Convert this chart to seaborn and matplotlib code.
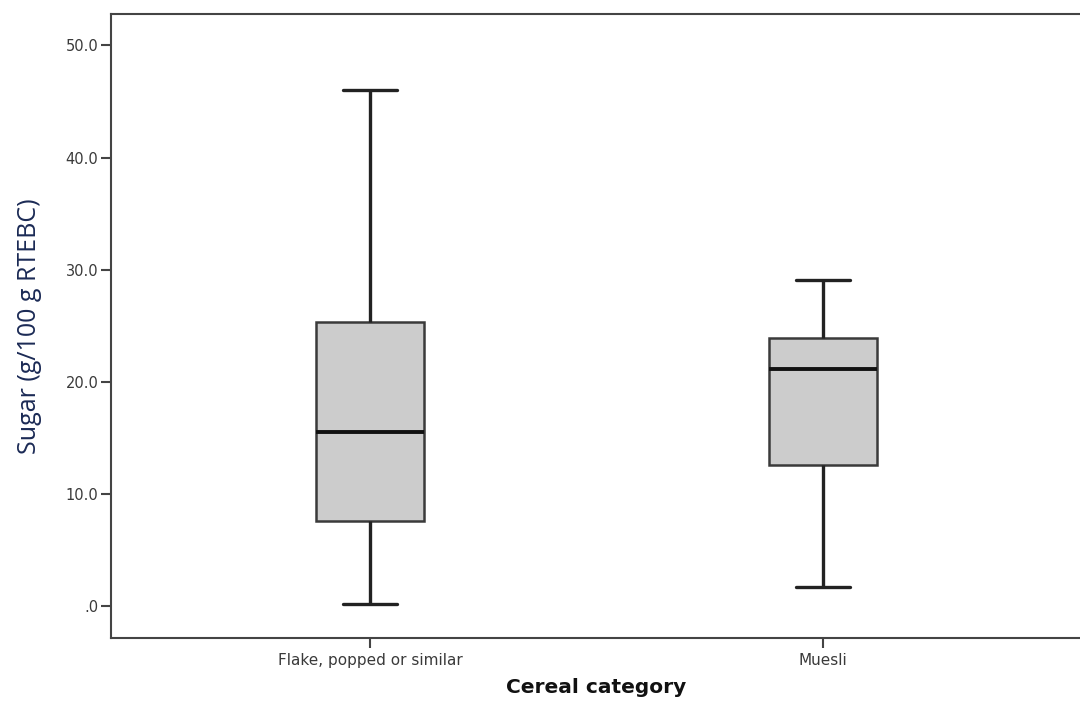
import matplotlib
matplotlib.use("Agg")
import matplotlib.pyplot as plt
import seaborn as sns
import pandas as pd
from matplotlib.ticker import FixedLocator, FuncFormatter

# Five-number summaries (min, Q1, median, Q3, max) of sugar content per category
categories = ["Flake, popped or similar", "Muesli"]
flake_summary = [0.2, 7.6, 15.5, 25.3, 46.0]
muesli_summary = [1.7, 12.6, 21.1, 23.9, 29.1]

df = pd.DataFrame({
    "category": [categories[0]] * len(flake_summary) + [categories[1]] * len(muesli_summary),
    "sugar": flake_summary + muesli_summary,
})

sns.set_style("white")
plt.rcParams["font.family"] = ["DejaVu Sans"]

fig = plt.figure(figsize=(10.8, 7.02), dpi=100)
W, H = 1080, 702
left, top, right, bottom = 111, 14, 1082, 638
ax = fig.add_axes([left / W, 1 - bottom / H, (right - left) / W, (bottom - top) / H])

sns.boxplot(
    data=df, x="category", y="sugar", order=categories, ax=ax,
    whis=(0, 100), width=0.24, color="#cccccc", saturation=1,
    linewidth=2.0, linecolor="#222222", showfliers=False,
    medianprops=dict(color="#111111", linewidth=2.8),
    boxprops=dict(edgecolor="#3a3a3a", linewidth=1.8),
    whiskerprops=dict(color="#222222", linewidth=2.4),
    capprops=dict(color="#222222", linewidth=2.4),
    capwidths=0.12,
)

ax.set_xlim(-0.572, 1.572)
ax.set_ylim(-2.85, 52.8)
ax.yaxis.set_major_locator(FixedLocator([0, 10, 20, 30, 40, 50]))
ax.yaxis.set_major_formatter(FuncFormatter(lambda v, p: ".0" if v == 0 else f"{v:.1f}"))

for s in ax.spines.values():
    s.set_color("#444444")
    s.set_linewidth(1.5)

ax.tick_params(axis="both", which="both", length=7, width=1.5, color="#444444",
               labelcolor="#3a3a3a", left=True, bottom=True, direction="out")
ax.tick_params(axis="y", labelsize=10.5, pad=2)
ax.tick_params(axis="x", labelsize=11, pad=4)

ax.set_xlabel("Cereal category", fontsize=14.5, fontweight="bold", color="#111111", labelpad=7)
ax.set_ylabel("Sugar (g/100 g RTEBC)", fontsize=18, color="#1b2a55",
              family=["Open Sans", "DejaVu Sans"], labelpad=17)

fig.savefig("out.png", dpi=100)
